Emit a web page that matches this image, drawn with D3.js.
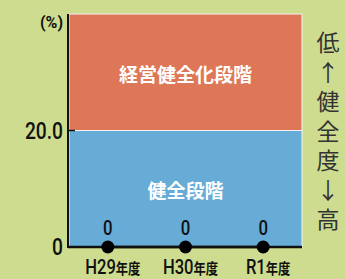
<!DOCTYPE html>
<html>
<head>
<meta charset="utf-8">
<script src="https://cdn.jsdelivr.net/npm/d3@7"></script>
<style>
  body { margin: 0; background: #cddc8e; }
  text { font-family: Roboto, "DejaVu Sans Condensed", sans-serif; }
  .jp { font-family: "Noto Sans CJK JP", sans-serif; }
</style>
</head>
<body>
<svg id="chart" width="345" height="279"></svg>
<script>
// data
const years = ['H29', 'H30', 'R1'];
const ratios = [0, 0, 0];
const bands = [
  {name: '健全段階', from: 0, to: 20, color: '#66acd6'},
  {name: '経営健全化段階', from: 20, to: 40, color: '#dd7758'}
];
const yTicks = [0, 20];
const sideLabel = '低↑健全度↓高';

const svg = d3.select('#chart');
const margin = {left: 69, top: 14, right: 43, bottom: 32};
const width = 345 - margin.left - margin.right;
const height = 279 - margin.top - margin.bottom;
const narrow = 0.8;

const x = d3.scalePoint().domain(years).range([0, width]).padding(0.5);
const y = d3.scaleLinear().domain([0, 40]).range([height, 0]);

const g = svg.append('g').attr('transform', `translate(${margin.left},${margin.top})`);

// band areas
g.selectAll('.band').data(bands).enter().append('rect')
  .attr('class', 'band')
  .attr('x', 0)
  .attr('width', width)
  .attr('y', (d) => y(d.to))
  .attr('height', (d) => y(d.from) - y(d.to))
  .attr('fill', (d) => d.color)
  .attr('stroke', '#f2f2f2')
  .attr('stroke-width', 1);

g.selectAll('.bandLabel').data(bands).enter().append('text')
  .attr('class', 'jp')
  .attr('x', width / 2)
  .attr('y', (d) => y(d.to) + 59)
  .attr('text-anchor', 'middle')
  .attr('dominant-baseline', 'central')
  .attr('fill', '#fff')
  .attr('font-weight', 'bold')
  .attr('font-size', 19)
  .text((d) => d.name);

// y axis
g.append('line')
  .attr('x1', -1).attr('x2', -1)
  .attr('y1', 0).attr('y2', height + 1)
  .attr('stroke', '#111').attr('stroke-width', 2);

g.selectAll('.ytick').data(yTicks.filter((d) => d > 0)).enter().append('line')
  .attr('x1', 0).attr('x2', 6)
  .attr('y1', (d) => y(d)).attr('y2', (d) => y(d))
  .attr('stroke', '#111').attr('stroke-width', 1.5);

g.selectAll('.yLabel').data(yTicks).enter().append('text')
  .attr('transform', (d) => `translate(-6,${y(d)}) scale(${narrow},1)`)
  .attr('text-anchor', 'end')
  .attr('dominant-baseline', 'central')
  .attr('font-size', 24)
  .attr('font-weight', 500)
  .attr('fill', '#111')
  .text((d) => d === 0 ? '0' : d.toFixed(1));

g.append('text')
  .attr('x', -6).attr('y', 14)
  .attr('text-anchor', 'end')
  .attr('font-size', 16)
  .attr('font-weight', 'bold')
  .attr('fill', '#111')
  .text('(%)');

// series line + markers
g.append('line')
  .attr('x1', -1).attr('x2', width)
  .attr('y1', y(0)).attr('y2', y(0))
  .attr('stroke', '#111').attr('stroke-width', 2.5);

const line = d3.line().x((d, i) => x(years[i])).y((d) => y(d));
g.append('path').datum(ratios)
  .attr('d', line)
  .attr('fill', 'none')
  .attr('stroke', '#111')
  .attr('stroke-width', 2.5);

g.selectAll('.dot').data(ratios).enter().append('circle')
  .attr('cx', (d, i) => x(years[i]))
  .attr('cy', (d) => y(d))
  .attr('r', 6.5)
  .attr('fill', '#000');

g.selectAll('.val').data(ratios).enter().append('text')
  .attr('transform', (d, i) => `translate(${x(years[i])},${y(d) - 19}) scale(${narrow},1)`)
  .attr('text-anchor', 'middle')
  .attr('dominant-baseline', 'central')
  .attr('font-size', 21)
  .attr('font-weight', 500)
  .attr('fill', '#111')
  .text((d) => d);

// x labels
const xl = g.selectAll('.xl').data(years).enter().append('text')
  .attr('transform', (d) => `translate(${x(d) + 5},${height + 27}) scale(0.85,1)`)
  .attr('text-anchor', 'middle')
  .attr('fill', '#111');
xl.append('tspan').attr('font-size', 19.5).attr('font-weight', 500).text((d) => d);
xl.append('tspan').attr('class', 'jp').attr('font-size', 14.5).attr('font-weight', 'bold').text('年度');

// side label
svg.append('text')
  .attr('class', 'jp')
  .attr('x', 328)
  .attr('y', 31)
  .style('writing-mode', 'vertical-rl')
  .style('text-orientation', 'upright')
  .attr('letter-spacing', 6.5)
  .attr('font-size', 23)
  .attr('fill', '#333')
  .text(sideLabel);
</script>
</body>
</html>
